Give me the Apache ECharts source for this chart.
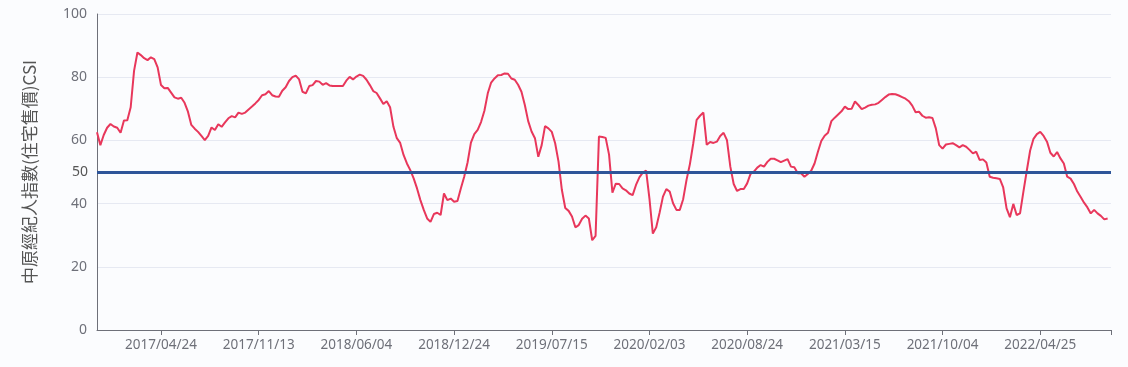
<!DOCTYPE html>
<html>
<head>
<meta charset="utf-8">
<script src="https://cdn.jsdelivr.net/npm/echarts@6/dist/echarts.min.js"></script>
<style>
html,body{margin:0;padding:0;background:#fbfcfe;}
#chart{width:1128px;height:367px;}
</style>
</head>
<body>
<div id="chart"></div>
<script>
// Weekly categories: first week and count (302 axis slots, data fills 301)
const startDate = [2016, 12, 12];
const categoryCount = 302;
const firstLabelIndex = 19;   // 2017/04/24
const labelStep = 29;         // weeks between labels
const refLevel = 50;
const yTicks = [0, 20, 40, 60, 80, 100];

const csi = [
62.6,58.5,61.7,64.0,65.2,64.4,64.0,62.4,66.3,66.4,
70.5,82.0,87.8,87.0,86.0,85.4,86.3,85.7,83.1,77.5,
76.5,76.6,75.1,73.6,73.2,73.5,71.9,69.1,64.9,63.7,
62.7,61.4,60.1,61.4,64.1,63.3,65.1,64.3,65.7,67.0,
67.7,67.3,68.8,68.4,68.8,69.8,70.7,71.7,72.8,74.3,
74.6,75.6,74.3,73.9,73.8,75.7,76.8,78.8,80.0,80.5,
79.3,75.4,74.9,77.2,77.5,78.8,78.6,77.6,78.1,77.4,
77.2,77.2,77.2,77.2,78.9,80.1,79.3,80.2,80.8,80.4,
79.2,77.5,75.6,75.0,73.3,71.5,72.4,70.5,64.3,60.7,
59.2,55.4,52.7,50.6,48.0,44.8,41.1,38.0,35.3,34.2,
36.7,37.1,36.4,43.2,41.1,41.6,40.6,40.8,44.8,48.5,
53.0,59.3,62.0,63.3,65.8,69.4,74.9,78.3,79.6,80.6,
80.7,81.2,81.1,79.6,79.2,77.6,75.4,71.2,66.1,62.8,
60.7,54.8,58.5,64.5,63.8,62.7,59.1,53.3,44.3,38.6,
37.7,35.9,32.5,33.2,35.2,36.2,35.3,28.4,29.8,61.2,
61.1,60.8,55.5,43.5,46.3,46.2,44.8,44.2,43.2,42.7,
45.9,48.3,49.8,50.4,41.5,30.5,32.5,37.1,42.2,44.6,
43.8,40.1,38.0,38.0,41.4,47.5,52.5,59.1,66.5,67.8,
68.8,58.6,59.5,59.2,59.6,61.4,62.4,60.1,51.7,46.2,
44.0,44.6,44.6,46.4,49.4,50.1,51.4,52.2,51.7,53.2,
54.2,54.2,53.7,53.1,53.6,54.1,51.7,51.5,49.6,49.6,
48.5,49.4,50.4,52.7,56.4,59.8,61.5,62.4,66.1,67.2,
68.2,69.2,70.7,69.9,70.0,72.3,71.2,69.9,70.4,71.0,
71.3,71.4,71.9,72.8,73.7,74.5,74.7,74.6,74.2,73.7,
73.2,72.4,71.0,68.9,69.1,67.8,67.2,67.3,67.1,63.8,
58.5,57.4,58.7,58.9,59.1,58.5,57.8,58.5,58.0,57.0,
55.9,56.4,53.8,54.0,53.0,48.5,48.2,48.0,47.8,45.1,
38.5,35.7,39.9,36.4,36.9,43.8,50.4,56.8,60.5,62.0,
62.7,61.4,59.6,56.1,54.9,56.3,54.3,52.7,48.5,47.9,
46.2,43.8,42.1,40.3,38.8,36.9,38.0,36.9,36.1,35.0,
35.3
];

function pad(n){return (n<10?'0':'')+n;}
const categories = [];
for (let i = 0; i < categoryCount; i++) {
  const d = new Date(Date.UTC(startDate[0], startDate[1]-1, startDate[2]) + i*7*86400000);
  categories.push(d.getUTCFullYear()+'/'+pad(d.getUTCMonth()+1)+'/'+pad(d.getUTCDate()));
}

const isLabel = (idx) => idx >= firstLabelIndex && (idx - firstLabelIndex) % labelStep === 0;

const chart = echarts.init(document.getElementById('chart'), null, {renderer:'canvas'});
const FONT = "'Noto Sans', sans-serif";
chart.setOption({
  backgroundColor: '#fbfcfe',
  animation: false,
  grid: {left: 97, right: 17, top: 14, bottom: 37, containLabel: false},
  xAxis: {
    type: 'category',
    data: categories,
    boundaryGap: false,
    axisLine: {show: true, lineStyle: {color: '#6E7079', width: 1}},
    axisTick: {show: true, interval: (idx) => isLabel(idx) || idx === categoryCount-1, length: 5, lineStyle:{color:'#6E7079'}},
    axisLabel: {interval: (idx) => isLabel(idx), color: '#6E7079', fontSize: 13.5, fontFamily: FONT, margin: 8, hideOverlap:false},
    splitLine: {show: false}
  },
  yAxis: {
    type: 'value',
    min: yTicks[0], max: yTicks[yTicks.length-1], interval: 20,
    name: '中原經紀人指數(住宅售價)CSI',
    nameLocation: 'middle',
    nameGap: 59,
    nameTextStyle: {fontSize: 17, color: '#555555', fontFamily: "'Noto Sans CJK TC', 'Noto Sans', sans-serif"},
    axisLine: {show: true, lineStyle: {color: '#6E7079', width: 1}},
    axisTick: {show: false},
    axisLabel: {color: '#6E7079', fontSize: 14, fontFamily: FONT, margin: 10},
    splitLine: {show: true, lineStyle: {color: '#E6E9F2', width: 1}}
  },
  series: [{
    type: 'line',
    data: csi,
    symbol: 'none',
    lineStyle: {color: '#E8375B', width: 2},
    itemStyle: {color: '#E8375B'},
    markLine: {
      silent: true,
      symbol: 'none',
      data: [{yAxis: refLevel}],
      lineStyle: {color: '#2E5599', width: 3, type: 'solid'},
      label: {show: true, position: 'start', formatter: String(refLevel), color: '#555', fontSize: 14, fontFamily: FONT, distance: 9}
    }
  }]
});
</script>
</body>
</html>
